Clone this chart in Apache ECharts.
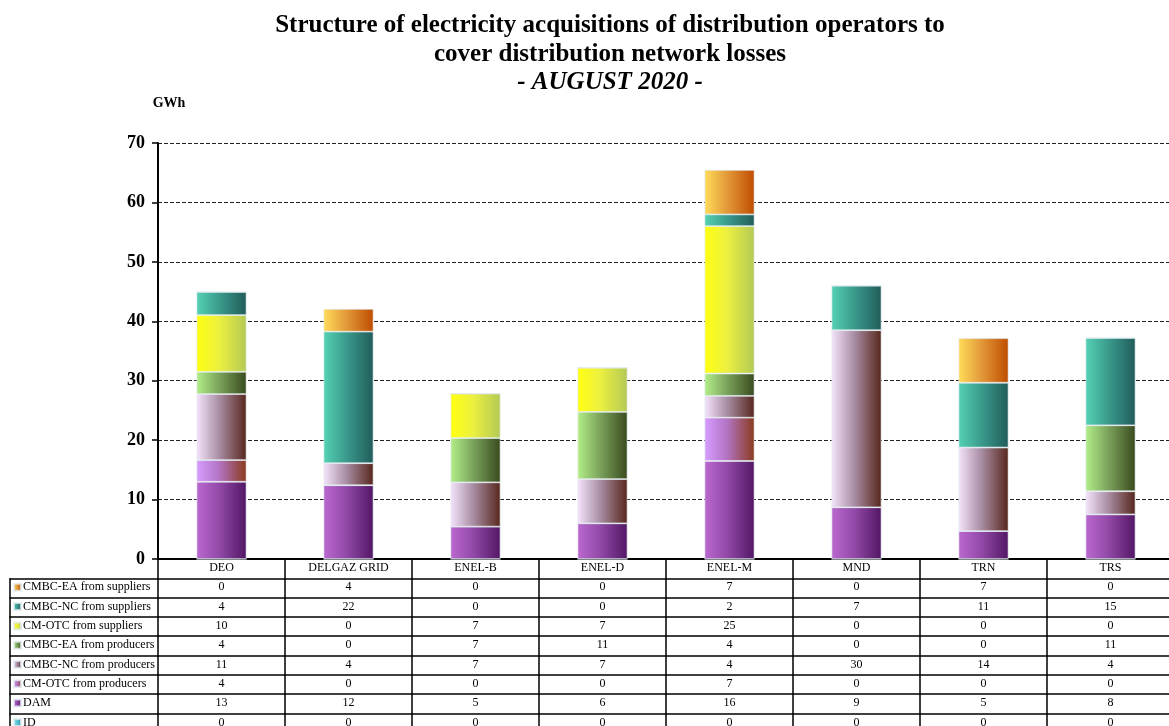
<!DOCTYPE html>
<html>
<head>
<meta charset="utf-8">
<title>Structure of electricity acquisitions - August 2020</title>
<script src="https://cdn.jsdelivr.net/npm/echarts@6/dist/echarts.min.js"></script>
<style>
html, body { margin: 0; padding: 0; background: #fff; }
#main { width: 1169px; height: 726px; }
</style>
</head>
<body>
<div id="main"></div>
<script>
"use strict";
// operators (x axis)
var categories = ['DEO', 'DELGAZ GRID', 'ENEL-B', 'ENEL-D', 'ENEL-M', 'MND', 'TRN', 'TRS'];

// GWh per operator (table shows them rounded)
var cmbcEaSuppliers = [0, 3.83, 0, 0, 7.49, 0, 7.49, 0];
var cmbcNcSuppliers = [3.9, 22.14, 0, 0, 1.97, 7.49, 10.9, 14.7];
var cmOtcSuppliers  = [9.55, 0, 7.49, 7.45, 24.8, 0, 0, 0];
var cmbcEaProducers = [3.75, 0, 7.45, 11.3, 3.76, 0, 0, 11.1];
var cmbcNcProducers = [11.1, 3.71, 7.45, 7.45, 3.66, 29.8, 14.06, 3.9];
var cmOtcProducers  = [3.65, 0, 0, 0, 7.3, 0, 0, 0];
var dam             = [13.0, 12.41, 5.45, 6.0, 16.49, 8.7, 4.7, 7.5];
var idMarket        = [0, 0, 0, 0, 0, 0, 0, 0];

// y axis
var yMin = 0, yMax = 70, yStep = 10;

// table rows, top to bottom (stack goes the other way)
var rows = [
	{ name: 'CMBC-EA from suppliers', values: cmbcEaSuppliers },
	{ name: 'CMBC-NC from suppliers', values: cmbcNcSuppliers },
	{ name: 'CM-OTC from suppliers',  values: cmOtcSuppliers },
	{ name: 'CMBC-EA from producers', values: cmbcEaProducers },
	{ name: 'CMBC-NC from producers', values: cmbcNcProducers },
	{ name: 'CM-OTC from producers',  values: cmOtcProducers },
	{ name: 'DAM',                    values: dam },
	{ name: 'ID',                     values: idMarket }
];

// left -> right colours of each bar piece
var colours = {
	'CMBC-EA from suppliers': ['#ffdc5a', '#e39a3a', '#bf4c00'],
	'CMBC-NC from suppliers': ['#55d2b4', '#3a9b8c', '#225c5a'],
	'CM-OTC from suppliers':  ['#ffff10', '#ecf040', '#b3c955'],
	'CMBC-EA from producers': ['#b2ef88', '#7ba35c', '#394a1e'],
	'CMBC-NC from producers': ['#f4e4fc', '#a98ea4', '#57261c'],
	'CM-OTC from producers':  ['#d79cff', '#b374c4', '#8a3a1c'],
	'DAM':                    ['#bb68d0', '#924aa8', '#521664'],
	'ID':                     ['#8fe3ee', '#5cc6d8', '#2f8fa3']
};

var FONT = 'Liberation Serif, Times New Roman, serif';
var ROW_H = 19.3;
var GRID_TOP = 143, GRID_H = 416;
var LINE = { color: '#000', width: 1.5 };
var TICK = { show: true, interval: 0, inside: false, length: ROW_H, lineStyle: LINE };
var CELL_TEXT = { interval: 0, margin: 3, fontFamily: FONT, fontSize: 12, color: '#000' };

function grad(c) {
	return new echarts.graphic.LinearGradient(0, 0, 1, 0, [
		{ offset: 0, color: c[0] },
		{ offset: 0.45, color: c[1] },
		{ offset: 1, color: c[2] }
	]);
}

var myChart = echarts.init(document.getElementById('main'));

// bars: bottom of the stack first
var series = [];
for (var i = rows.length - 1; i >= 0; i--) {
	series.push({
		name: rows[i].name,
		type: 'bar',
		stack: 'total',
		barWidth: 50,
		xAxisIndex: 0,
		yAxisIndex: 0,
		itemStyle: {
			color: grad(colours[rows[i].name]),
			borderColor: 'rgba(225,235,240,0.8)',
			borderWidth: 0.8
		},
		emphasis: { disabled: true },
		data: rows[i].values
	});
}

// x axes: header row (operator names) + one axis per table row
var xAxes = [{
	type: 'category',
	gridIndex: 0,
	position: 'bottom',
	boundaryGap: true,
	data: categories,
	axisLine: { onZero: false, lineStyle: { color: '#000', width: 2 } },
	axisTick: TICK,
	axisLabel: CELL_TEXT
}];
for (var r = 0; r < rows.length; r++) {
	xAxes.push({
		type: 'category',
		gridIndex: 0,
		position: 'bottom',
		boundaryGap: true,
		offset: ROW_H * (r + 1),
		data: rows[r].values.map(function (v) { return String(Math.round(v)); }),
		axisLine: { onZero: false, lineStyle: LINE },
		axisTick: TICK,
		axisLabel: CELL_TEXT
	});
	// left column borders of the table
	xAxes.push({
		type: 'category',
		gridIndex: 1,
		position: 'bottom',
		boundaryGap: true,
		offset: ROW_H * (r + 1),
		data: [''],
		axisLine: { onZero: false, lineStyle: LINE },
		axisTick: TICK,
		axisLabel: { show: false }
	});
}

// one legend per table row, sitting in the left column
var legends = rows.map(function (row, k) {
	return {
		data: [row.name],
		orient: 'horizontal',
		left: 13,
		top: GRID_TOP + GRID_H + ROW_H * (k + 1) + 3,
		padding: 0,
		itemWidth: 7,
		itemHeight: 7,
		icon: 'rect',
		selectedMode: false,
		textStyle: { fontFamily: FONT, fontSize: 12, color: '#000', padding: [0, 0, 0, -3] }
	};
});

var option = {
	animation: false,
	backgroundColor: '#fff',
	title: [{
		text: 'Structure of electricity acquisitions of distribution operators to\ncover distribution network losses',
		left: 605,
		top: 6,
		textAlign: 'center',
		textStyle: { fontFamily: FONT, fontSize: 25, fontWeight: 'bold', color: '#000', lineHeight: 29 }
	}, {
		text: '- AUGUST 2020 -',
		left: 605,
		top: 65,
		textAlign: 'center',
		textStyle: { fontFamily: FONT, fontSize: 25, fontWeight: 'bold', fontStyle: 'italic', color: '#000' }
	}],
	legend: legends,
	grid: [
		{ left: 158, top: GRID_TOP, width: 1016, height: GRID_H, outerBoundsMode: 'none' },
		{ left: 10, top: GRID_TOP, width: 148, height: GRID_H, show: false, outerBoundsMode: 'none' }
	],
	xAxis: xAxes,
	yAxis: [{
		type: 'value',
		gridIndex: 0,
		min: yMin,
		max: yMax,
		interval: yStep,
		name: 'GWh',
		nameLocation: 'end',
		nameGap: 33,
		nameTextStyle: { fontFamily: FONT, fontSize: 14, fontWeight: 'bold', color: '#000', padding: [0, 0, 0, 22] },
		axisLine: { show: true, lineStyle: { color: '#000', width: 2 } },
		axisTick: { show: true, length: 6, lineStyle: { color: '#000', width: 1.5 } },
		axisLabel: { margin: 13, fontFamily: FONT, fontSize: 18, fontWeight: 'bold', color: '#000' },
		splitLine: { show: true, lineStyle: { color: '#222', width: 1, type: [4, 2] } }
	}, {
		type: 'value',
		gridIndex: 1,
		min: 0,
		max: 1,
		show: false
	}],
	series: series
};

myChart.setOption(option);
</script>
</body>
</html>
